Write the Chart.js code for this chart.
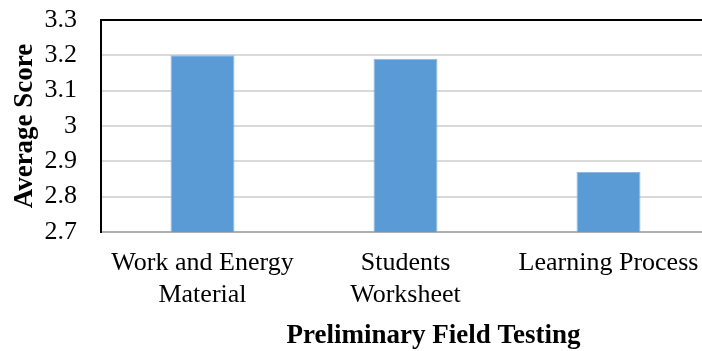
<!DOCTYPE html>
<html>
<head>
<meta charset="utf-8">
<script src="https://cdn.jsdelivr.net/npm/chart.js@4.4.1/dist/chart.umd.min.js"></script>
<style>
  html, body { margin: 0; padding: 0; background: #fff; overflow: hidden; }
  #wrap { width: 710px; height: 351px; }
</style>
</head>
<body>
<div id="wrap"><canvas id="score-chart"></canvas></div>
<script>
// Average score per component of the preliminary field test
var categories = [['Work and Energy', 'Material'], ['Students', 'Worksheet'], 'Learning Process'];
var averageScores = [3.2, 3.19, 2.87];
var yMin = 2.7;
var yMax = 3.3;
var yStep = 0.1;
var xTitle = 'Preliminary Field Testing';

var serif = "'Liberation Serif', 'Times New Roman', serif";

// x axis title, drawn a little right of the axis centre
var xTitlePlugin = {
  id: 'xTitle',
  afterDraw: function(chart) {
    var c = chart.ctx;
    var xs = chart.scales.x;
    c.save();
    c.font = 'bold 27px ' + serif;
    c.fillStyle = '#000';
    c.textAlign = 'center';
    c.textBaseline = 'alphabetic';
    c.fillText(xTitle, (xs.left + xs.right) / 2 + 28, 343);
    c.restore();
  }
};

var ctx = document.getElementById('score-chart').getContext('2d');

var scoreChart = new Chart(ctx, {
  type: 'bar',
  data: {
    labels: categories,
    datasets: [{
      label: 'Average Score',
      data: averageScores,
      backgroundColor: '#5b9bd5',
      borderColor: '#8fb8e3',
      borderWidth: 1,
      categoryPercentage: 1,
      barPercentage: 0.315
    }]
  },
  options: {
    responsive: true,
    maintainAspectRatio: false,
    animation: false,
    layout: { padding: { top: 20, left: 0, right: 0, bottom: 0 } },
    plugins: {
      legend: { display: false },
      tooltip: { enabled: false }
    },
    scales: {
      x: {
        grid: { display: false, drawTicks: false },
        border: { color: '#b0b0b0', width: 2 },
        ticks: {
          color: '#000',
          font: { family: serif, size: 26, lineHeight: 1.2 },
          padding: 16,
          maxRotation: 0,
          autoSkip: false
        },
        afterFit: function(scale) {
          scale.height = 119;
          scale.paddingLeft = 0;
          scale.paddingRight = 0;
        }
      },
      y: {
        min: yMin,
        max: yMax,
        grid: {
          drawTicks: false,
          lineWidth: 2,
          color: function(c) {
            // top edge of the plot is a black frame line
            return c.tick && Math.abs(c.tick.value - yMax) < 1e-6 ? '#000' : '#d9d9d9';
          }
        },
        border: { color: '#000', width: 2 },
        ticks: {
          stepSize: yStep,
          autoSkip: false,
          color: '#000',
          font: { family: serif, size: 26 },
          padding: 24,
          callback: function(value) {
            return String(Math.round(value * 10) / 10);
          }
        },
        title: {
          display: true,
          text: 'Average Score',
          color: '#000',
          font: { family: serif, size: 27, weight: 'bold', lineHeight: 1.2 },
          padding: { top: 9, bottom: 0 }
        },
        afterFit: function(scale) {
          scale.width = 101;
          scale.paddingTop = 0;
          scale.paddingBottom = 0;
        }
      }
    }
  },
  plugins: [xTitlePlugin]
});
</script>
</body>
</html>
